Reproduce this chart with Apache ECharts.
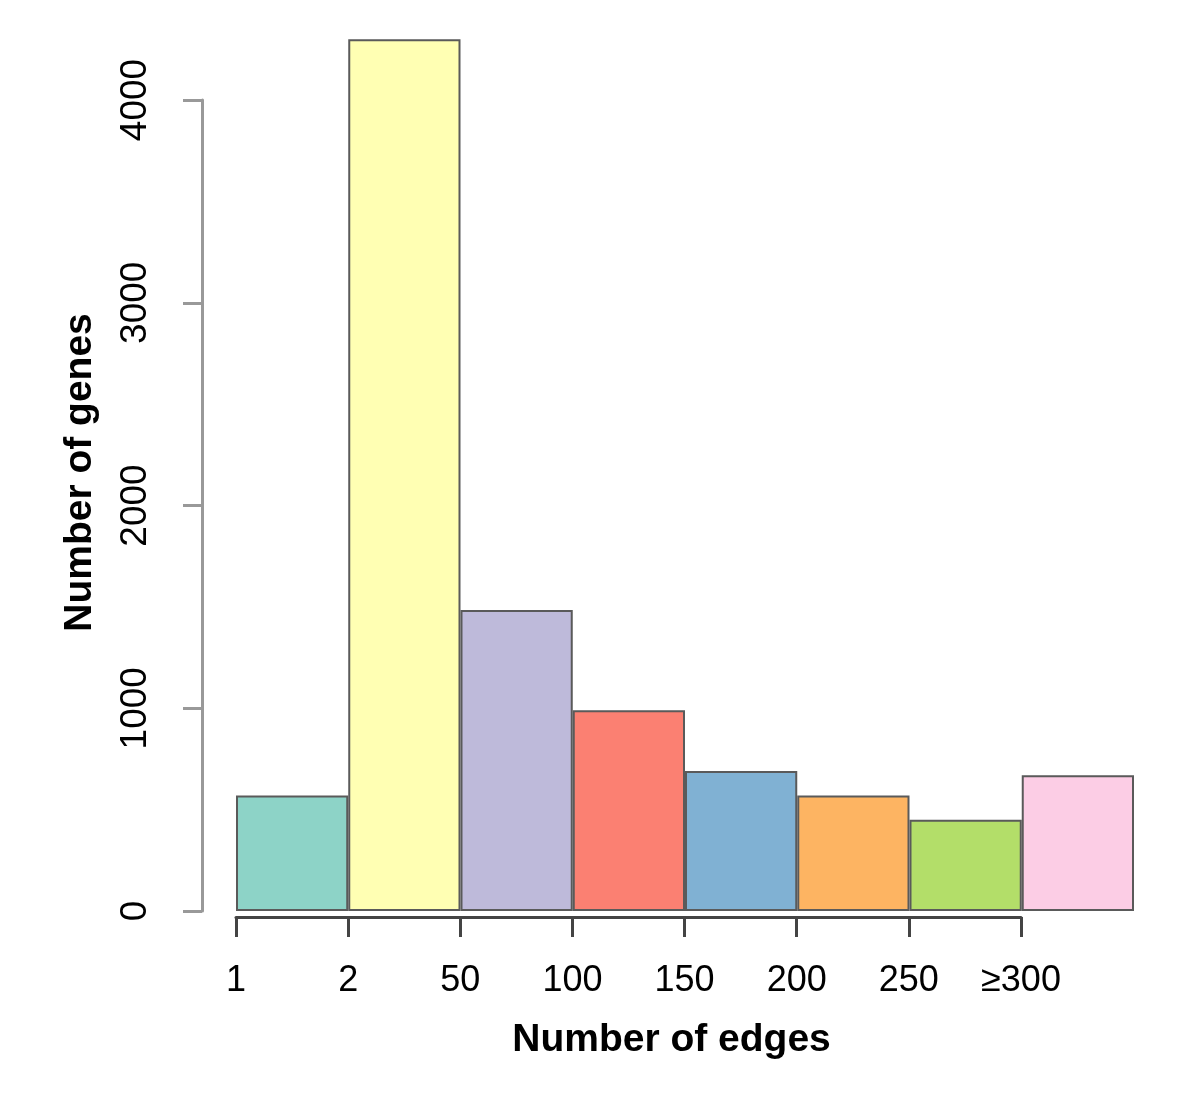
<!DOCTYPE html>
<html>
<head>
<meta charset="utf-8">
<script src="https://cdn.jsdelivr.net/npm/echarts@6/dist/echarts.min.js"></script>
<style>
  html, body { margin: 0; padding: 0; background: #fff; }
  #chart { width: 1200px; height: 1098px; }
</style>
</head>
<body>
<div id="chart"></div>
<script>
// ヒストグラム風の棒グラフ（R の hist 風）
const binNames = ['1-2', '2-50', '50-100', '100-150', '150-200', '200-250', '250-300', '>=300'];
const geneCounts = [570, 4300, 1485, 990, 690, 570, 450, 670];
const edgeTicks = ['1', '2', '50', '100', '150', '200', '250', '≥300'];
const barColors = ['#8DD3C7', '#FFFFB3', '#BEBADA', '#FB8072', '#80B1D3', '#FDB462', '#B3DE69', '#FCCDE5'];

const chart = echarts.init(document.getElementById('chart'));
const font = '"Liberation Sans", Arial, sans-serif';

const option = {
  animation: false,
  backgroundColor: '#fff',
  grid: [
    // 棒用
    { left: 236, right: 66, top: 19, bottom: 187 },
    // 軸用（R と同じく目盛りの範囲だけ線を引く）
    { left: 236, right: 179, top: 100, bottom: 187 }
  ],
  xAxis: [
    {
      gridIndex: 0,
      type: 'category',
      data: binNames,
      show: false
    },
    {
      gridIndex: 1,
      type: 'value',
      min: 0,
      max: 7,
      interval: 1,
      offset: 6,
      axisLine: { show: true, onZero: false, lineStyle: { color: '#444', width: 3 } },
      axisTick: { show: true, length: 20, lineStyle: { color: '#444', width: 3 } },
      axisLabel: {
        margin: 46,
        color: '#000',
        fontFamily: font,
        fontSize: 36,
        formatter: v => edgeTicks[v] || ''
      },
      splitLine: { show: false },
      name: 'Number of edges',
      nameLocation: 'middle',
      nameGap: 104,
      nameTextStyle: {
        color: '#000',
        fontFamily: font,
        fontSize: 39,
        fontWeight: 'bold',
        padding: [0, 0, 0, 86]
      }
    }
  ],
  yAxis: [
    {
      gridIndex: 0,
      type: 'value',
      min: 0,
      max: 4400,
      show: false
    },
    {
      gridIndex: 1,
      type: 'value',
      min: 0,
      max: 4000,
      interval: 1000,
      offset: 34,
      axisLine: { show: true, onZero: false, lineStyle: { color: '#999', width: 3 } },
      axisTick: { show: true, length: 19, lineStyle: { color: '#999', width: 3 } },
      axisLabel: {
        rotate: 90,
        margin: 48,
        color: '#000',
        fontFamily: font,
        fontSize: 37,
        formatter: v => String(v)
      },
      splitLine: { show: false },
      name: 'Number of genes',
      nameLocation: 'middle',
      nameRotate: 90,
      nameGap: 102,
      nameTextStyle: {
        color: '#000',
        fontFamily: font,
        fontSize: 39,
        fontWeight: 'bold',
        padding: [0, 0, 0, 66]
      }
    }
  ],
  series: [{
    type: 'bar',
    xAxisIndex: 0,
    yAxisIndex: 0,
    barCategoryGap: '0%',
    data: geneCounts.map((v, i) => ({
      value: v,
      itemStyle: { color: barColors[i] }
    })),
    itemStyle: { borderColor: '#5a5a5a', borderWidth: 2 }
  }]
};

chart.setOption(option);
window.addEventListener('resize', () => { try { chart.resize(); } catch {} });
</script>
</body>
</html>
